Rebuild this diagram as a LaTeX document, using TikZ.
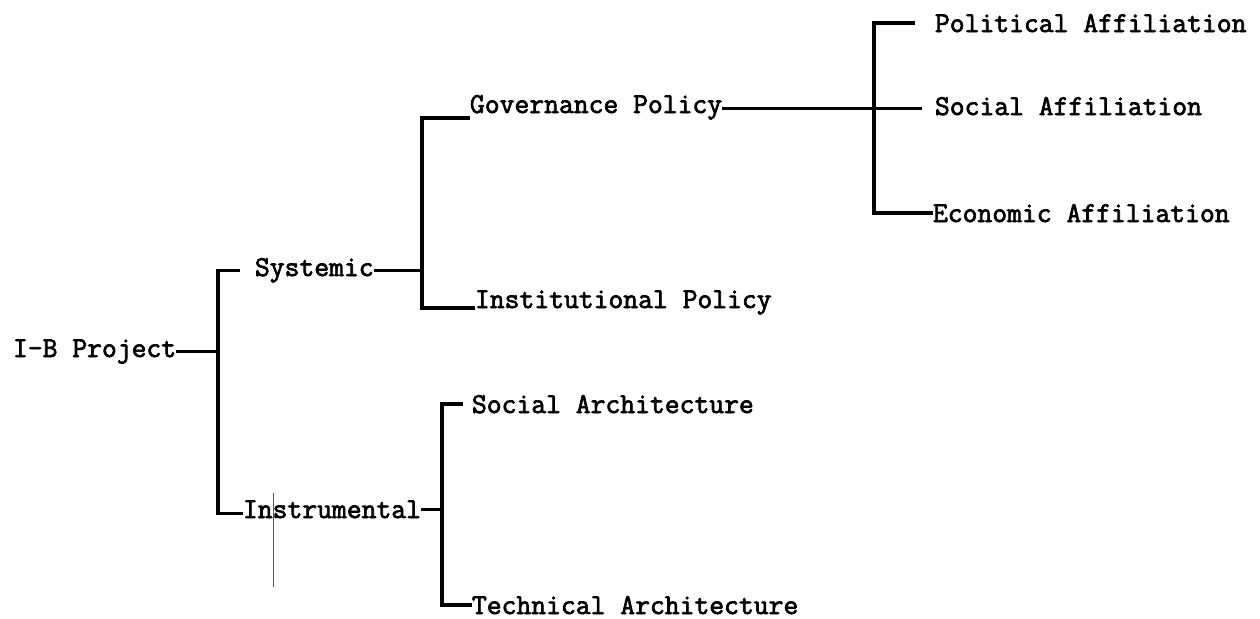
\documentclass[tikz,border=0pt]{standalone}
\usepackage{fontspec}
\newfontfamily\typewriter{Latin Modern Mono}[FakeBold=2.4]
\begin{document}
\begin{tikzpicture}[x=0.5pt,y=-0.5pt,
  lbl/.style={inner sep=0pt,outer sep=0pt,anchor=base west,
    font=\fontsize{14.4pt}{16pt}\selectfont\typewriter},
  wire/.style={line width=1.7pt,line join=miter},
  hair/.style={line width=0.5pt,black!65}]
  % page
  \fill[white] (0,0) rectangle (1260,618);
  \useasboundingbox (0,0) rectangle (1260,618);

  % labels (typed at a fixed pitch, anchored on their baselines)
  \node[lbl] (root)  at (13,357)  {I-B Project};
  \node[lbl] (sys)   at (255,276) {Systemic};
  \node[lbl] (inst)  at (243,518) {Instrumental};
  \node[lbl] (gov)   at (470,113) {Governance Policy};
  \node[lbl] (ipol)  at (475,308) {Institutional Policy};
  \node[lbl] (pol)   at (935,32)  {Political Affiliation};
  \node[lbl] (soc)   at (935,115) {Social Affiliation};
  \node[lbl] (eco)   at (933,222) {Economic Affiliation};
  \node[lbl] (sarch) at (472,413) {Social Architecture};
  \node[lbl] (tarch) at (472,614) {Technical Architecture};

  % x positions of the vertical bars
  \coordinate (busA) at (218,0);
  \coordinate (busB) at (422,118);
  \coordinate (busC) at (874,0);
  \coordinate (busD) at (442,0);
  % height of the Governance -> Social Affiliation rule
  \coordinate (gs) at ([yshift=-1.2pt]soc.west);

  % I-B Project -> Systemic / Instrumental
  \draw[wire] (root.east) -- (busA |- root.east);
  \draw[wire] ([xshift=-7.5pt]sys.west) -- (busA |- sys.west)
              -- (busA |- inst.mid west) -- (inst.mid west);

  % Systemic -> Governance / Institutional Policy
  \draw[wire] (sys.east) -- (busB |- sys.east);
  \draw[wire] (gov.base west |- busB) -- (busB)
              -- (busB |- ipol.base west) -- (ipol.base west);

  % Governance Policy -> affiliations
  \draw[wire] (gov.east |- gs) -- ([xshift=-6.5pt]gs);
  \draw[wire] ([xshift=-10pt]pol.west) -- (busC |- pol.west)
              -- (busC |- eco.west) -- (eco.west);

  % Instrumental -> architectures
  \draw[wire] (inst.east) -- (busD |- inst.east);
  \draw[wire] ([xshift=-4.5pt]sarch.west) -- (busD |- sarch.west)
              -- (busD |- tarch.west) -- (tarch.west);

  % faint rule crossing Instrumental
  \draw[hair] (273,493) -- (273,587);
\end{tikzpicture}
\end{document}
